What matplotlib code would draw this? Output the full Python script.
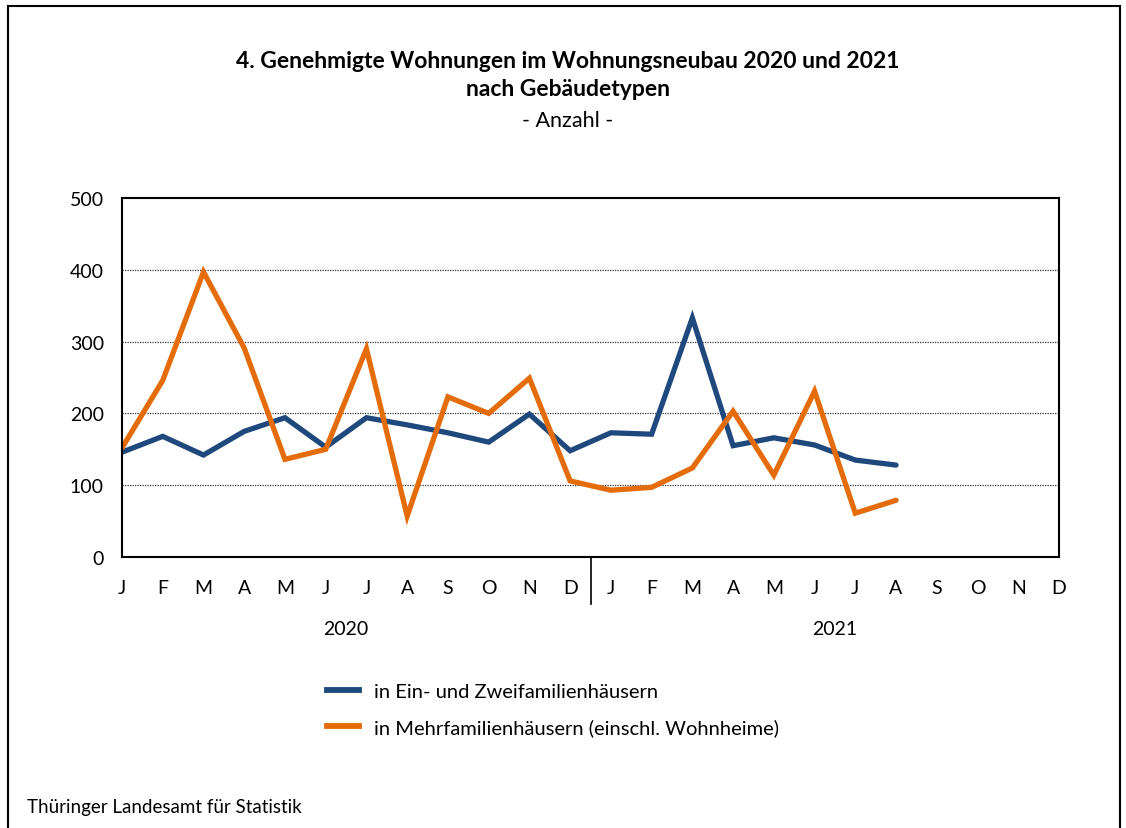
import matplotlib
matplotlib.use('Agg')
import matplotlib.pyplot as plt
from matplotlib.lines import Line2D

# Monthly values (Anzahl), Jan 2020 .. Aug 2021
MONTHS = ['J', 'F', 'M', 'A', 'M', 'J', 'J', 'A', 'S', 'O', 'N', 'D'] * 2
YEARS = ['2020', '2021']
EIN_ZWEI = [146, 168, 142, 175, 194, 153, 194, 184, 173, 160, 199, 148,
            173, 171, 333, 155, 166, 156, 135, 128]
MEHR = [152, 246, 397, 291, 136, 150, 290, 57, 223, 200, 249, 106,
        93, 97, 124, 203, 114, 231, 61, 79]
LABELS = ['in Ein- und Zweifamilienhäusern',
          'in Mehrfamilienhäusern (einschl. Wohnheime)']

BLUE = '#1F497D'
ORANGE = '#E46C0A'
FONT = 'Lato'

plt.rcParams['font.family'] = [FONT, 'DejaVu Sans']

fig = plt.figure(figsize=(11.26, 8.29), dpi=100)
ax = fig.add_axes([122 / 1126, 1 - 558 / 829, (1059 - 122) / 1126, (558 - 199) / 829])

x1 = range(len(EIN_ZWEI))
x2 = range(len(MEHR))
ax.plot(x1, EIN_ZWEI, color=BLUE, lw=3.8, solid_capstyle='round', solid_joinstyle='miter')
ax.plot(x2, MEHR, color=ORANGE, lw=3.8, solid_capstyle='round', solid_joinstyle='miter')

ax.set_xlim(0, len(MONTHS) - 1)
ax.set_ylim(0, 500)
ax.set_yticks([0, 100, 200, 300, 400, 500])
ax.tick_params(axis='y', length=0, labelsize=14, pad=13)
ax.set_xticks(range(len(MONTHS)))
ax.set_xticklabels(MONTHS)
ax.tick_params(axis='x', length=0, labelsize=14, pad=16)
for y in [100, 200, 300, 400]:
    ax.axhline(y, color='#333333', lw=0.9, ls=(0, (1, 1)), zorder=0)
for s in ax.spines.values():
    s.set_linewidth(1.5)
    s.set_color('black')

# year separator and year labels
ax.plot([11.5, 11.5], [0, -0.13], transform=ax.get_xaxis_transform(),
        color='black', lw=1.2, clip_on=False)
for i, yr in enumerate(YEARS):
    ax.text(5.5 + 12 * i, -0.2, yr, transform=ax.get_xaxis_transform(),
            ha='center', va='center', fontsize=14)

# titles
fig.text(0.504, 1 - 62 / 829, '4. Genehmigte Wohnungen im Wohnungsneubau 2020 und 2021',
         ha='center', va='center', fontsize=16.5, fontweight='bold')
fig.text(0.504, 1 - 90 / 829, 'nach Gebäudetypen',
         ha='center', va='center', fontsize=16.5, fontweight='bold')
fig.text(0.504, 1 - 121 / 829, '- Anzahl -', ha='center', va='center', fontsize=15.5)

# legend
handles = [Line2D([], [], color=BLUE, lw=4.2), Line2D([], [], color=ORANGE, lw=4.2)]
fig.legend(handles, LABELS, loc='upper left', bbox_to_anchor=(309 / 1126, 1 - 666 / 829),
           frameon=False, fontsize=14.5, handlelength=1.6, handletextpad=0.75,
           labelspacing=0.9)

fig.text(27 / 1126, 1 - 808 / 829, 'Thüringer Landesamt für Statistik',
         ha='left', va='center', fontsize=13.5)

# outer frame
frame = plt.Rectangle((8 / 1126, -0.01), (1120 - 8) / 1126, 1 - 7 / 829 + 0.01,
                      transform=fig.transFigure, fill=False, lw=1.5, color='black')
fig.patches.append(frame)

fig.savefig('out.png', dpi=100)
